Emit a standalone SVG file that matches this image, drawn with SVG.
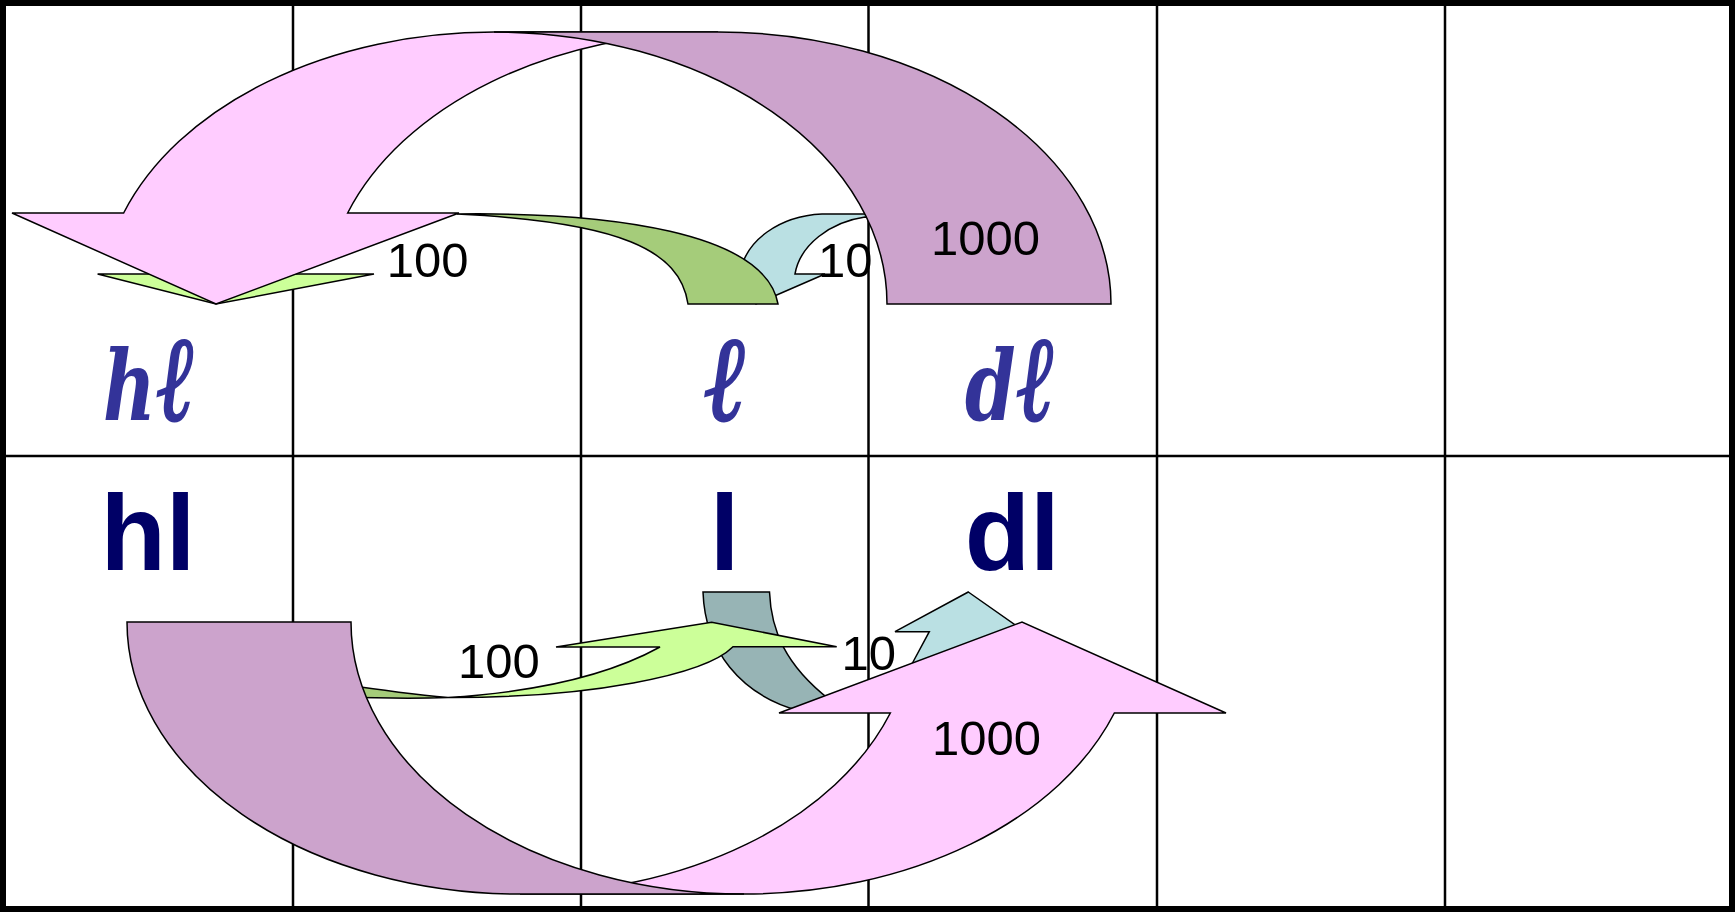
<svg xmlns="http://www.w3.org/2000/svg" width="1735" height="912" viewBox="0 0 1735 912">
<style>
.grid line{stroke:#000;stroke-width:2.5}
.sh{stroke:#000;stroke-width:1.5;stroke-linejoin:miter}
.pink{fill:#FFCCFF}
.purple{fill:#CCA3CC}
.dgreen{fill:#A5CC7A}
.lgreen{fill:#CCFF99}
.lblue{fill:#BAE0E3}
.gray{fill:#97B4B5}
.num{font-family:"Liberation Sans",Arial,sans-serif;font-size:49px;fill:#000}
.bold{font-family:"Liberation Sans",Arial,sans-serif;font-weight:bold;font-size:107px;fill:#000066}
.script{font-family:"DejaVu Serif",serif;font-style:italic;font-weight:bold;font-size:98px;fill:#333399}
.ell{font-size:120px;stroke:#333399;stroke-width:2.5}
</style>
<g id="grid" class="grid">
<rect x="3" y="3" width="1729" height="906" fill="#fff" stroke="#000" stroke-width="6"/>
<line x1="293" y1="3" x2="293" y2="909"/>
<line x1="581" y1="3" x2="581" y2="909"/>
<line x1="868.5" y1="3" x2="868.5" y2="909"/>
<line x1="1157" y1="3" x2="1157" y2="909"/>
<line x1="1445" y1="3" x2="1445" y2="909"/>
<line x1="3" y1="456" x2="1732" y2="456"/>
</g>
<g id="connectors">
<g id="arrow-top-10">
<path class="sh lblue" d="M 705 274 L 740 274 C 745 240, 780 216, 822 214 L 880 214 L 880 220 L 865 217 C 830 222, 800 245, 795 274 L 825 274 L 756 304 Z"/>
</g>
<g id="arrow-top-100">
<path class="sh lgreen" d="M 97.6 274 L 216 304 L 374 274 L 290 274 L 430 216 L 420 216 L 160 274 Z"/>
<path class="sh dgreen" d="M 457 214 C 610 212, 765 232, 778 304 L 688 304 C 680 250, 620 222, 457 214 Z"/>
</g>
<g id="arrow-top-1000">
<path class="sh pink" d="M 12 213 L 123.65 213 A 393 272 0 0 1 494 32 L 718 32 A 393 272 0 0 0 347.65 213 L 459 213 L 216 304 Z"/>
<path class="sh purple" d="M 887 304 A 393 272 0 0 0 494 32 L 718 32 A 393 272 0 0 1 1111 304 Z"/>
</g>
<g id="arrow-bottom-10">
<path class="sh gray" d="M 703 592 L 769.5 592 C 771 630, 785 665, 830 700 L 870 711 L 800 711 C 740 695, 705 650, 703 592 Z"/>
<path class="sh lblue" d="M 968.3 592 L 1025 631.7 L 1000 640 C 975 680, 920 705, 870 711 L 830 700 C 870 695, 900 685, 913 662 L 929.3 631.7 L 895 631.7 Z"/>
</g>
<g id="arrow-bottom-100">
<path class="sh dgreen" d="M 448 697.5 C 420 698.5, 390 698.5, 340 697 L 340 684 C 380 690, 420 695, 448 697.5 Z"/>
<path class="sh lgreen" d="M 448 697.5 C 520 693, 600 680, 660 647 L 556 647 L 711.7 622.3 L 836.7 646.7 L 733 646.7 C 705 675, 590 698, 448 697.5 Z"/>
</g>
<g id="arrow-bottom-1000">
<path class="sh pink" d="M 1226 713 L 1114.35 713 A 393 272 0 0 1 744 894 L 520 894 A 393 272 0 0 0 890.35 713 L 779 713 L 1022 622 Z"/>
<path class="sh purple" d="M 351 622 A 393 272 0 0 0 744 894 L 520 894 A 393 272 0 0 1 127 622 Z"/>
</g>
<g id="labels">
<text class="num" x="386.7" y="277">100</text>
<text class="num" x="818" y="277">10</text>
<text class="num" x="931" y="255">1000</text>
<text class="num" x="458" y="678">100</text>
<text class="num" x="841.4" y="670">10</text>
<text class="num" x="932" y="755">1000</text>
</g>
</g>
<g id="node-hl-script"><text class="script" transform="translate(103 420) scale(0.74 1)" x="0" y="0">h<tspan class="ell" dx="2">ℓ</tspan></text></g>
<g id="node-l-script"><text class="script" x="705" y="420" textLength="42" lengthAdjust="spacingAndGlyphs"><tspan class="ell">ℓ</tspan></text></g>
<g id="node-dl-script"><text class="script" transform="translate(965 420) scale(0.74 1)" x="0" y="0">d<tspan class="ell" dx="2">ℓ</tspan></text></g>
<g id="node-hl"><text class="bold" x="100.5" y="570">hl</text></g>
<g id="node-l"><text class="bold" x="709.7" y="570">l</text></g>
<g id="node-dl"><text class="bold" x="964.7" y="570">dl</text></g>
</svg>
